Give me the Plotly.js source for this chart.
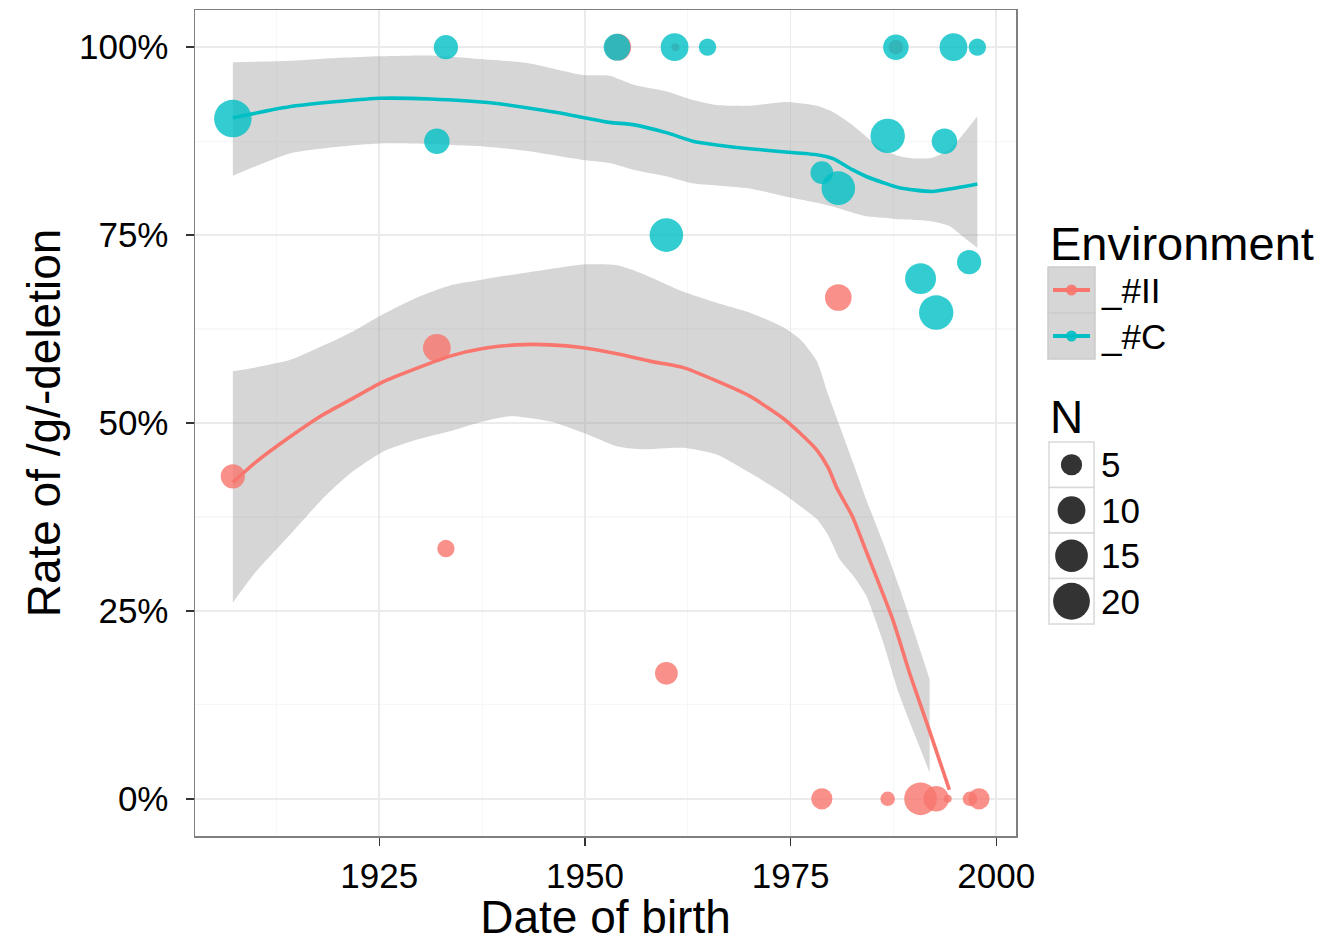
<!DOCTYPE html>
<html>
<head>
<meta charset="utf-8">
<script src="https://cdn.plot.ly/plotly-3.0.1.min.js"></script>
<style>html,body{margin:0;padding:0;background:#fff}#chart{width:1332px;height:943px}</style>
</head>
<body>
<div id="chart"></div>
<script>
// ---------- data ----------
const groupNames = ['_#II', '_#C'];
const groupColors = ['#F8766D', '#00BFC4'];

// observed points (year of birth, rate in %, N speakers)
const iiYear = [1907.2, 1932.0, 1933.1, 1954.0, 1959.9, 1961.0, 1978.8, 1980.8, 1986.8, 1987.8, 1990.8, 1992.7, 1994.1, 1996.8, 1997.9];
const iiRate = [42.9, 60.0, 33.3, 100, 16.7, 100, 0, 66.7, 0, 100, 0, 0, 0, 0, 0];
const iiN    = [7, 10, 3, 9, 6, 1, 5, 9, 2, 2, 15, 8, 1, 2, 5];

const cYear = [1907.2, 1932.0, 1933.1, 1953.9, 1959.9, 1960.9, 1964.9, 1978.8, 1980.8, 1986.8, 1987.8, 1990.8, 1992.7, 1993.7, 1994.8, 1996.7, 1997.7];
const cRate = [90.5, 87.5, 100, 100, 75, 100, 100, 83.3, 81.25, 88.2, 100, 69.2, 64.7, 87.5, 100, 71.4, 100];
const cN    = [21, 8, 7, 9, 16, 10, 3, 6, 16, 17, 8, 13, 17, 8, 10, 7, 3];

// smoother (fit) and confidence band, group _#II
const iiFitX = [1907.2, 1910, 1914.2, 1918, 1921.5, 1925.5, 1929.6, 1933.6, 1937.6, 1941.7, 1945.8, 1949.8, 1953.9, 1958, 1961.9, 1966, 1970, 1974, 1976.1, 1978.2, 1979.6, 1980.6, 1982.5, 1984.2, 1987.4, 1989.5, 1991.9, 1994.3];
const iiFitY = [42.1, 44.8, 48.2, 51.0, 53.1, 55.5, 57.3, 58.9, 59.9, 60.4, 60.4, 60.0, 59.2, 58.2, 57.4, 55.6, 53.6, 50.7, 48.7, 46.4, 44.0, 41.4, 37.6, 32.9, 23.9, 16.6, 9.0, 1.2];
const iiBandX = [1907.2, 1910, 1914.2, 1918, 1921.5, 1925.5, 1929.6, 1933.6, 1937.6, 1941, 1945.8, 1949.8, 1953.9, 1956.7, 1961.9, 1966, 1970, 1974, 1976.1, 1978.2, 1979.5, 1981, 1982.6, 1984.2, 1986.2, 1988.2, 1990, 1991.9];
const iiBandHi = [56.9, 57.4, 58.4, 60.2, 62.0, 64.5, 66.7, 68.3, 69.1, 69.7, 70.5, 71.1, 71.0, 70.0, 67.5, 66.0, 64.7, 62.8, 61.2, 58.2, 54.0, 49.5, 44.7, 39.8, 34.2, 28.2, 22.3, 15.9];
const iiBandLo = [26.1, 30.2, 35.2, 39.8, 43.3, 46.2, 47.8, 48.9, 50.2, 50.9, 50.2, 48.7, 46.9, 46.5, 46.7, 45.8, 43.4, 40.7, 39.0, 37.2, 35.2, 31.8, 29.7, 27.0, 21.0, 13.9, 8.8, 3.5];

// smoother (fit) and confidence band, group _#C
const cFitX = [1907.2, 1914.2, 1920.3, 1925.1, 1931.2, 1938.5, 1946.6, 1953.0, 1955.8, 1960.0, 1963.1, 1966.0, 1970.0, 1974.0, 1978.2, 1980.1, 1982.5, 1984.2, 1986.2, 1988.2, 1992.2, 1994.7, 1997.7];
const cFitY = [90.6, 92.1, 92.8, 93.2, 93.1, 92.6, 91.3, 90.0, 89.7, 88.6, 87.5, 87.0, 86.5, 86.1, 85.7, 85.2, 83.7, 82.8, 82.0, 81.3, 80.8, 81.2, 81.8];
const cBandX = [1907.2, 1914.2, 1920.3, 1925.1, 1931.2, 1937.7, 1943, 1949.8, 1953, 1955.9, 1960, 1963, 1966, 1970, 1974.5, 1978.2, 1980.1, 1982.2, 1984.2, 1986.2, 1988.2, 1990.2, 1992.2, 1994.3, 1996.4, 1997.7];
const cBandHi = [98.0, 98.2, 98.6, 98.8, 98.9, 98.4, 97.9, 96.3, 96.2, 95.0, 94.1, 93.0, 92.3, 92.2, 92.7, 92.2, 91.4, 89.9, 88.1, 86.4, 85.5, 85.2, 85.3, 86.4, 89.0, 90.8];
const cBandLo = [82.9, 85.9, 86.8, 87.2, 87.1, 86.8, 86.2, 85.0, 84.6, 83.7, 82.8, 81.9, 81.6, 81.2, 80.1, 79.3, 78.8, 78.1, 77.5, 77.3, 77.1, 77.0, 76.8, 76.2, 74.4, 73.3];

// axis ticks
const xTickVals = [1925, 1950, 1975, 2000];
const xMinorVals = [1912.5, 1937.5, 1962.5, 1987.5];
const yTickVals = [0, 25, 50, 75, 100];
const yTickText = ['0%', '25%', '50%', '75%', '100%'];
const yMinorVals = [12.5, 37.5, 62.5, 87.5];

// size legend breaks
const sizeBreaks = [5, 10, 15, 20];

// ---------- styling helpers ----------
const FONT = 'Liberation Sans, Arial, Helvetica, sans-serif';
function pointDiameter(n) { return 8 + 6.6 * Math.sqrt(Math.max(n - 1, 0)); }
const bandFill = 'rgba(153,153,153,0.4)';

const traces = [];
function band(x, lo, hi) {
  traces.push({x: x, y: lo, type: 'scatter', mode: 'lines', line: {width: 0, shape: 'spline', smoothing: 0.6}, showlegend: false, hoverinfo: 'skip'});
  traces.push({x: x, y: hi, type: 'scatter', mode: 'lines', fill: 'tonexty', fillcolor: bandFill, line: {width: 0, shape: 'spline', smoothing: 0.6}, showlegend: false, hoverinfo: 'skip'});
}
band(iiBandX, iiBandLo, iiBandHi);
band(cBandX, cBandLo, cBandHi);
traces.push({x: iiFitX, y: iiFitY, type: 'scatter', mode: 'lines', line: {color: groupColors[0], width: 3.6, shape: 'spline', smoothing: 0.6}, showlegend: false, name: groupNames[0]});
traces.push({x: cFitX, y: cFitY, type: 'scatter', mode: 'lines', line: {color: groupColors[1], width: 3.6, shape: 'spline', smoothing: 0.6}, showlegend: false, name: groupNames[1]});
traces.push({x: iiYear, y: iiRate, type: 'scatter', mode: 'markers', name: groupNames[0], showlegend: false,
  marker: {color: groupColors[0], opacity: 0.8, size: iiN.map(pointDiameter), line: {width: 0}}});
traces.push({x: cYear, y: cRate, type: 'scatter', mode: 'markers', name: groupNames[1], showlegend: false,
  marker: {color: groupColors[1], opacity: 0.8, size: cN.map(pointDiameter), line: {width: 0}}});

// ---------- manual legends (ggplot style) ----------
const L = 195, T = 10, PW = 821, PH = 826;
const px = v => (v - L) / PW;
const py = v => (T + PH - v) / PH;
const shapes = [];
const annotations = [];

annotations.push({text: 'Environment', xref: 'paper', yref: 'paper', x: px(1048), y: py(244), xanchor: 'left', yanchor: 'middle', showarrow: false, font: {family: FONT, size: 47, color: '#000'}});
groupNames.forEach((g, i) => {
  const top = 267 + i * 46, cy = top + 23;
  shapes.push({type: 'rect', xref: 'paper', yref: 'paper', x0: px(1048), x1: px(1095), y0: py(top), y1: py(top + 46), fillcolor: '#D6D6D6', line: {color: '#CCCCCC', width: 1.5}});
  shapes.push({type: 'line', xref: 'paper', yref: 'paper', x0: px(1053), x1: px(1090), y0: py(cy), y1: py(cy), line: {color: groupColors[i], width: 4}});
  shapes.push({type: 'circle', xref: 'paper', yref: 'paper', xsizemode: 'pixel', ysizemode: 'pixel', xanchor: px(1071.5), yanchor: py(cy), x0: -5.5, x1: 5.5, y0: -5.5, y1: 5.5, fillcolor: groupColors[i], opacity: 0.9, line: {width: 0}});
  annotations.push({text: g, xref: 'paper', yref: 'paper', x: px(1099), y: py(cy), xanchor: 'left', yanchor: 'middle', showarrow: false, font: {family: FONT, size: 35, color: '#000'}});
});

annotations.push({text: 'N', xref: 'paper', yref: 'paper', x: px(1048), y: py(417), xanchor: 'left', yanchor: 'middle', showarrow: false, font: {family: FONT, size: 46, color: '#000'}});
sizeBreaks.forEach((n, i) => {
  const top = 442 + i * 45.5, cy = top + 22.75;
  const r = pointDiameter(n) / 2;
  shapes.push({type: 'rect', xref: 'paper', yref: 'paper', x0: px(1049), x1: px(1094), y0: py(top), y1: py(top + 45.5), fillcolor: '#FFFFFF', line: {color: '#D9D9D9', width: 1.5}});
  shapes.push({type: 'circle', xref: 'paper', yref: 'paper', xsizemode: 'pixel', ysizemode: 'pixel', xanchor: px(1071.5), yanchor: py(cy), x0: -r, x1: r, y0: -r, y1: r, fillcolor: 'rgba(0,0,0,0.8)', line: {width: 0}});
  annotations.push({text: String(n), xref: 'paper', yref: 'paper', x: px(1099), y: py(cy), xanchor: 'left', yanchor: 'middle', showarrow: false, font: {family: FONT, size: 35, color: '#000'}});
});

const layout = {
  width: 1332, height: 943,
  margin: {l: L, r: 1332 - L - PW, t: T, b: 943 - T - PH, pad: 0},
  paper_bgcolor: '#FFFFFF', plot_bgcolor: '#FFFFFF',
  showlegend: false,
  font: {family: FONT, color: '#000'},
  xaxis: {
    range: [1902.6, 2002.4], tickmode: 'array', tickvals: xTickVals, ticktext: xTickVals.map(String),
    showgrid: true, gridcolor: '#EBEBEB', gridwidth: 1.6, zeroline: false,
    minor: {tickmode: 'array', tickvals: xMinorVals, showgrid: true, gridcolor: '#F7F7F7', gridwidth: 1.2, ticks: ''},
    ticks: 'outside', ticklen: 8, tickwidth: 1.5, tickcolor: '#333333', ticklabelstandoff: 0,
    showline: true, mirror: true, linecolor: '#7F7F7F', linewidth: 1.5,
    tickfont: {family: FONT, size: 35, color: '#000'},
    title: {text: 'Date of birth', font: {family: FONT, size: 46, color: '#000'}, standoff: 17},
    automargin: false
  },
  yaxis: {
    range: [-4.95, 104.95], tickmode: 'array', tickvals: yTickVals, ticktext: yTickText,
    showgrid: true, gridcolor: '#EBEBEB', gridwidth: 1.6, zeroline: false,
    minor: {tickmode: 'array', tickvals: yMinorVals, showgrid: true, gridcolor: '#F7F7F7', gridwidth: 1.2, ticks: ''},
    ticks: 'outside', ticklen: 8, tickwidth: 1.5, tickcolor: '#333333', ticklabelstandoff: 10,
    showline: true, mirror: true, linecolor: '#7F7F7F', linewidth: 1.5,
    tickfont: {family: FONT, size: 35, color: '#000'},
    title: {text: 'Rate of /g/-deletion', font: {family: FONT, size: 46, color: '#000'}, standoff: 4},
    automargin: false
  },
  shapes: shapes,
  annotations: annotations
};

Plotly.newPlot('chart', traces, layout, {staticPlot: true, displayModeBar: false});
</script>
</body>
</html>
